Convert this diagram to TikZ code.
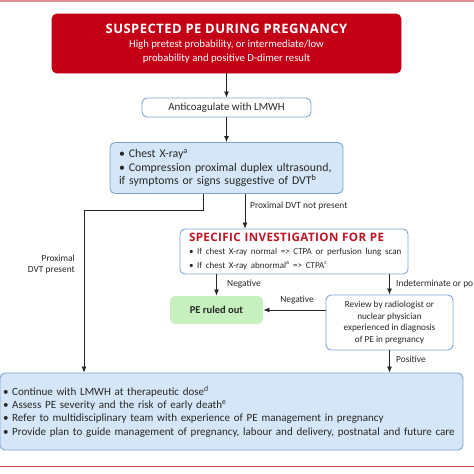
\documentclass[tikz,border=0pt]{standalone}
\usepackage{fontspec}
\setmainfont{Carlito}
\newfontfamily\headfont{Open Sans}[LetterSpace=3.5]
\usetikzlibrary{arrows.meta,positioning,calc}

\definecolor{peRed}{RGB}{196,0,22}
\definecolor{peTitle}{RGB}{190,20,35}
\definecolor{peBlue}{RGB}{125,165,210}
\definecolor{peFill}{RGB}{212,230,247}
\definecolor{peGreen}{RGB}{198,240,190}
\definecolor{peRule}{RGB}{200,70,80}
\definecolor{peText}{RGB}{40,40,40}

\begin{document}
\begin{tikzpicture}[
      x=1pt, y=-1pt,
      font=\fontsize{11.05}{13.4}\selectfont,
      text=peText,
      box/.style={
        draw=peBlue,
        rounded corners=5pt,
        line width=0.9pt,
        inner sep=0pt,
        align=center
      },
      start/.style={
        box,
        draw=peRed,
        fill=peRed,
        text=white,
        minimum width=349pt,
        minimum height=59pt,
        font=\fontsize{10.7}{14.2}\selectfont
      },
      stepbox/.style={box, fill=white},
      action/.style={box, fill=peFill, align=left},
      outcome/.style={
        box,
        draw=none,
        fill=peGreen,
        font=\fontsize{10.5}{12}\selectfont\bfseries
      },
      lbl/.style={font=\fontsize{9.4}{11}\selectfont, inner sep=1pt},
      arr/.style={-{Latex[length=6pt,width=5pt]}, line width=0.8pt, draw=black!85},
      rule/.style={line width=1.2pt}
    ]
    \useasboundingbox (0,0) rectangle (474,474);
    \clip (0,0) rectangle (474,474);
    \draw[rule, draw=peRule!60] (0,1) -- (474,1);
    \draw[rule, draw=peRule] (0,466.5) -- (474,466.5);

    \node[start] (suspected) at (226.5,43.5)
    {{\headfont\bfseries\fontsize{13}{14.2}\selectfont SUSPECTED PE DURING PREGNANCY}\\
    High pretest probability, or intermediate/low\\
    probability and positive D-dimer result};

    \node[stepbox, minimum width=169pt, minimum height=19pt, font=\fontsize{10.95}{13.4}\selectfont] (anticoag) at (226.5,107.5)
    {Anticoagulate with LMWH};

    \node[action, minimum width=233pt, minimum height=51pt, text width=215pt,
      font=\fontsize{11.8}{13.2}\selectfont] (chest) at (226.5,168)
    {\mbox{• Chest X-ray\textsuperscript{a}}\\
    \mbox{• Compression proximal duplex ultrasound,}\\
    \mbox{if symptoms or signs suggestive of DVT\textsuperscript{b}}};

    \node[stepbox, align=left, minimum width=228pt, minimum height=45pt, text width=210pt] (specific) at (294,251.5)
    {\mbox{\headfont\bfseries\fontsize{11.6}{12}\selectfont\color{peTitle}SPECIFIC INVESTIGATION FOR PE}\\[0pt]
    \mbox{\fontsize{9}{12.3}\selectfont • If chest X-ray normal => CTPA or perfusion lung scan}\\
    \mbox{\fontsize{9}{12.3}\selectfont • If chest X-ray abnormal\textsuperscript{a} => CTPA\textsuperscript{c}}};

    \node[outcome, minimum width=93pt, minimum height=28pt] (ruledout) at (216.5,310)
    {PE ruled out};

    \node[stepbox, minimum width=127pt, minimum height=55pt, font=\fontsize{9.2}{11.4}\selectfont] (review) at (389.5,322.5)
    {Review by radiologist or\\
    nuclear physician\\
    experienced in diagnosis\\
    of PE in pregnancy};

    \node[action, minimum width=463pt, minimum height=77pt, text width=457pt] (manage) at (231.5,411.5)
    {\mbox{• Continue with LMWH at therapeutic dose\textsuperscript{d}}\\
    \mbox{• Assess PE severity and the risk of early death\textsuperscript{e}}\\
    \mbox{• Refer to multidisciplinary team with experience of PE management in pregnancy}\\
    \mbox{• Provide plan to guide management of pregnancy, labour and delivery, postnatal and future care}};

    \coordinate (dvtbend) at (84,210);

    \node[lbl, align=right, anchor=east] (dvtyes) at (76,264.5) {Proximal\\DVT present};
    \node[lbl, anchor=west] (dvtno) at (249,206) {Proximal DVT not present};
    \node[lbl, anchor=west] (negone) at (226,284) {Negative};
    \node[lbl, anchor=west] (indet) at (395,283.5) {Indeterminate or po};
    \node[lbl] (negtwo) at (297,300) {Negative};
    \node[lbl, anchor=west] (positive) at (395,359.5) {Positive};

    \draw[arr] (suspected) -- (anticoag);
    \draw[arr] (anticoag) -- (chest);
    \draw[arr] ([xshift=-23.5pt]chest.south) |- (dvtbend) -- (dvtbend |- manage.north);
    \draw[arr] ([xshift=18.5pt]chest.south) -- ([xshift=18.5pt]chest.south |- specific.north);
    \draw[arr] (specific.south -| ruledout.north) -- (ruledout.north);
    \draw[arr] (specific.south -| review.north) -- (review.north);
    \draw[arr] (review.west |- ruledout.east) -- (ruledout.east);
    \draw[arr] (review.south) -- (manage.north -| review.south);
    \end{tikzpicture}
\end{document}
